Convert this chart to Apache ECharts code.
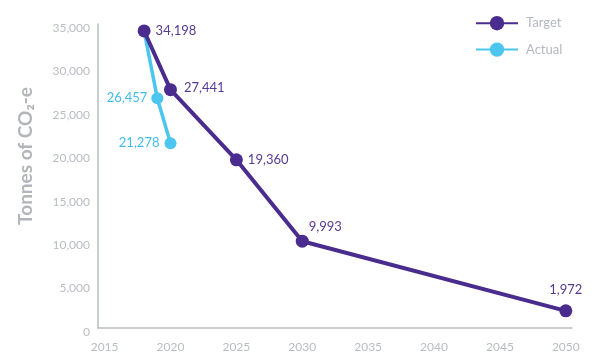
<!DOCTYPE html>
<html><head><meta charset="utf-8">
<script src="https://cdn.jsdelivr.net/npm/echarts@6/dist/echarts.min.js"></script>
<style>html,body{margin:0;padding:0;background:#fff}#c{width:603px;height:357px}</style>
</head><body><div id="c"></div>
<script>
const targetYears = [2018, 2020, 2025, 2030, 2050];
const targetValues = [34198, 27441, 19360, 9993, 1972];
const actualYears = [2018, 2019, 2020];
const actualValues = [34198, 26457, 21278];
const xTicks = [2015, 2020, 2025, 2030, 2035, 2040, 2045, 2050];
const yTicks = [0, 5000, 10000, 15000, 20000, 25000, 30000, 35000];

const PURPLE = '#4a2c8e', BLUE = '#4cc6ee', GRAY = '#b9bcc2';
const FONT = 'Lato, "DejaVu Sans", sans-serif';
const fmt = v => v.toLocaleString('en-US');

const targetLabelPos = [
  {position:'right', distance:5, offset:[0,0]},
  {position:'right', distance:7, offset:[0,-2]},
  {position:'right', distance:5, offset:[0,0]},
  {position:'right', distance:0, offset:[0,-14]},
  {position:'top', distance:8, offset:[0,0]}
];

const chart = echarts.init(document.getElementById('c'));
chart.setOption({
  animation:false,
  grid:{left:98, right:31, top:24, bottom:29},
  legend:{
    orient:'vertical', left:470, top:11, itemWidth:42, itemHeight:18, itemGap:12,
    textStyle:{color:'#b5b8c0', fontSize:13, fontFamily:FONT, padding:[0,0,0,3]},
    data:['Target','Actual']
  },
  graphic:[{
    type:'text', left:16, top:87, rotation:Math.PI/2,
    style:{text:'Tonnes of CO₂-e', fill:'#b3b5b9', font:'bold 19px '+FONT}
  }],
  xAxis:{
    type:'value', min:2014.5, max:2050.47,
    axisLine:{show:true, lineStyle:{color:'#b9bcbf', width:1.5}},
    axisTick:{show:false},
    splitLine:{show:false},
    axisLabel:{customValues:xTicks, color:GRAY, fontSize:12, fontFamily:FONT, margin:13, formatter:v=>String(v)}
  },
  yAxis:{
    type:'value', min:0, max:35000,
    axisLine:{show:true, lineStyle:{color:'#b9bcbf', width:1.5}},
    axisTick:{show:false},
    splitLine:{show:false},
    axisLabel:{customValues:yTicks, color:GRAY, fontSize:12, fontFamily:FONT, margin:8, verticalAlign:'top', padding:[-2,0,0,0], formatter:v=>fmt(v)}
  },
  series:[
    {
      name:'Target', type:'line', z:3,
      data:targetYears.map((y,i)=>({value:[y,targetValues[i]], label:targetLabelPos[i]})),
      symbol:'circle', symbolSize:13,
      lineStyle:{color:PURPLE, width:4}, itemStyle:{color:PURPLE},
      label:{show:true, color:'#563a93', fontSize:13, fontFamily:FONT, formatter:p=>fmt(p.value[1])}
    },
    {
      name:'Actual', type:'line', z:2,
      data:actualYears.map((y,i)=>({value:[y,actualValues[i]],
        label:{show:i>0, position:'left', distance:i===1?4:5}})),
      symbol:'circle', symbolSize:12,
      lineStyle:{color:BLUE, width:3.5}, itemStyle:{color:BLUE},
      label:{show:true, color:'#3fbde8', fontSize:13, fontFamily:FONT, formatter:p=>fmt(p.value[1])}
    }
  ]
});
</script></body></html>
